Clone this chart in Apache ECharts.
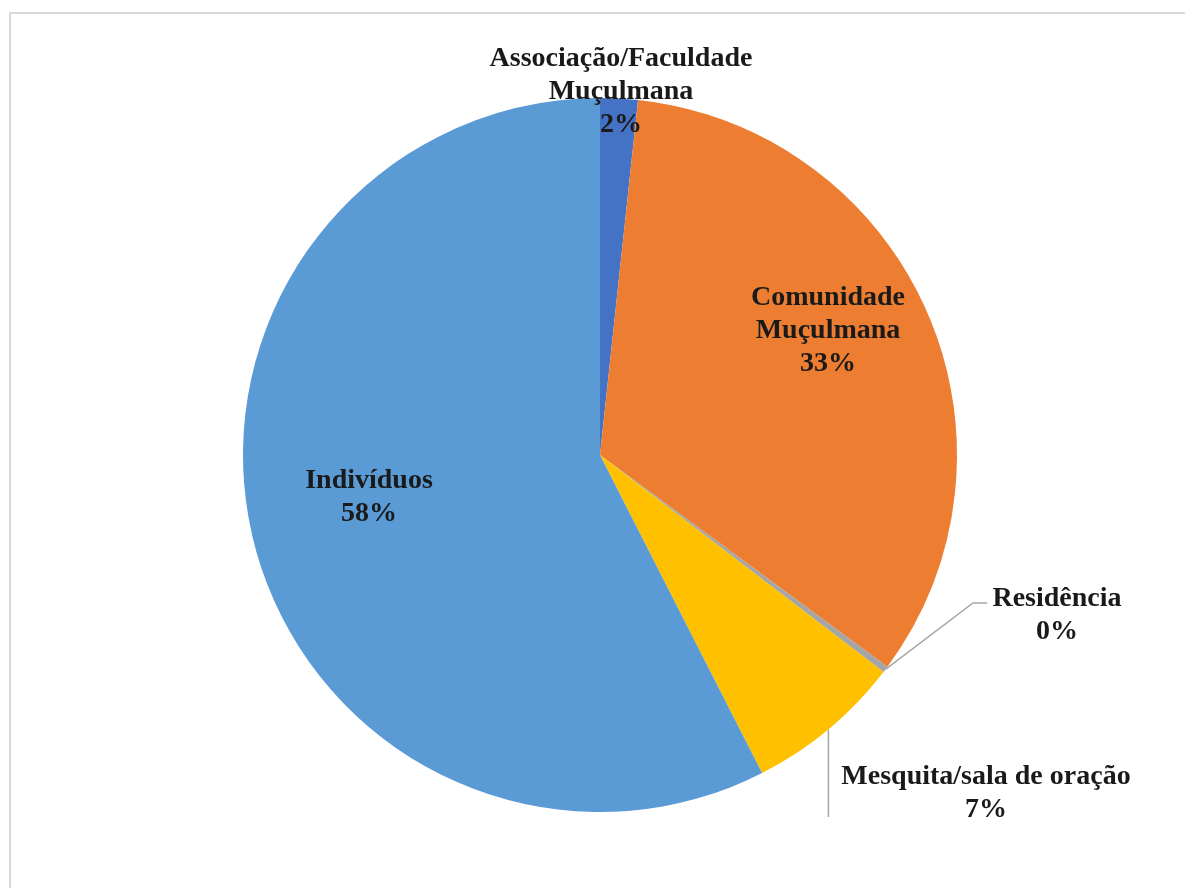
<!DOCTYPE html>
<html>
<head>
<meta charset="utf-8">
<script src="https://cdn.jsdelivr.net/npm/echarts@6/dist/echarts.min.js"></script>
<style>
  html, body { margin: 0; padding: 0; background: #ffffff; }
  #chart { width: 1185px; height: 888px; }
</style>
</head>
<body>
<div id="chart"></div>
<script>
// Categories and shares (%), clockwise from 12 o'clock
const categories = [
  'Associação/Faculdade\nMuçulmana',
  'Comunidade\nMuçulmana',
  'Residência',
  'Mesquita/sala de oração',
  'Indivíduos'
];
const shares = [1.7, 33.4, 0.3, 7.1, 57.5];
const colors = ['#4472C4', '#ED7D31', '#A5A5A5', '#FFC000', '#5B9BD5'];

// Label anchor points (label centre) and leader-line elbows
const labelSpots = [
  { x: 621, y: 92 },
  { x: 828, y: 331 },
  { x: 1057, y: 615, elbow: [[973, 603], [987, 603]] },
  { x: 986, y: 793, elbow: 'vertical', end: 817 },
  { x: 369, y: 497 }
];

const chart = echarts.init(document.getElementById('chart'), null, { renderer: 'canvas' });

const data = categories.map((name, i) => ({
  name: name,
  value: shares[i],
  itemStyle: { color: colors[i] },
  labelLine: { show: i === 2 || i === 3 }
}));

chart.setOption({
  backgroundColor: '#ffffff',
  animation: false,
  graphic: [{
    type: 'rect',
    shape: { x: 10, y: 13, width: 1300, height: 1000 },
    style: { fill: 'none', stroke: '#d9d9d9', lineWidth: 2 },
    silent: true,
    z: -10
  }],
  series: [{
    type: 'pie',
    center: [600, 455],
    radius: 357,
    startAngle: 90,
    clockwise: true,
    avoidLabelOverlap: false,
    data: data,
    itemStyle: { borderWidth: 0 },
    label: {
      show: true,
      position: 'outside',
      formatter: p => p.name + '\n' + Math.round(p.percent) + '%',
      fontFamily: '"Liberation Serif", "Times New Roman", serif',
      fontWeight: 'bold',
      fontSize: 28,
      lineHeight: 33,
      color: '#1a1a1a',
      align: 'center'
    },
    labelLine: {
      show: true,
      lineStyle: { color: '#a6a6a6', width: 1.5 },
      smooth: false
    },
    labelLayout: params => {
      const s = labelSpots[params.dataIndex];
      const res = { x: s.x, y: s.y, align: 'center', verticalAlign: 'middle', hideOverlap: false };
      const start = params.labelLinePoints && params.labelLinePoints[0];
      if (start && s.elbow === 'vertical') {
        res.labelLinePoints = [start, [start[0], s.end]];
      } else if (start && s.elbow) {
        res.labelLinePoints = [start].concat(s.elbow);
      }
      return res;
    }
  }]
});
</script>
</body>
</html>
